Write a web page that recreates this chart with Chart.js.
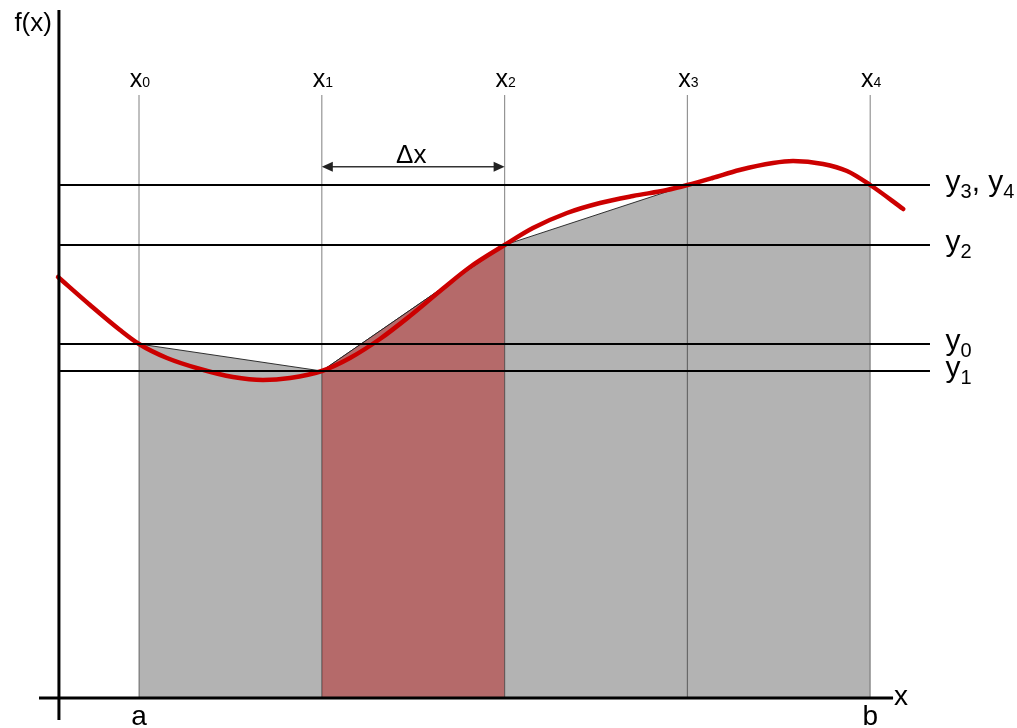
<!DOCTYPE html>
<html><head><meta charset="utf-8">
<script src="https://cdn.jsdelivr.net/npm/chart.js@4.4.1/dist/chart.umd.min.js"></script>
<style>html,body{margin:0;padding:0;background:#fff;}canvas{display:block;}</style>
</head><body>
<canvas id="c" width="1017" height="728"></canvas>
<script>
// ---- data ----
const curveX = [0.557,0.732,0.896,1.0,1.153,1.334,1.514,1.678,1.826,2.0,2.154,2.318,2.482,2.647,2.811,3.0,3.155,3.341,3.522,3.702,3.888,4.0,4.137,4.285,4.468,4.578,4.742,4.873,5.0,5.181];
const curveY = [4.21,3.93,3.68,3.54,3.40,3.29,3.21,3.18,3.20,3.27,3.40,3.59,3.82,4.07,4.31,4.53,4.70,4.85,4.95,5.02,5.08,5.13,5.20,5.28,5.35,5.37,5.34,5.27,5.13,4.89];
const nodeX = [1,2,3,4,5];
const nodeY = [3.54,3.27,4.53,5.13,5.13];
const nodeName = ['x','x','x','x','x'];
const nodeSub = ['0','1','2','3','4'];
const stripIndex = [1,2];            // highlighted trapezoid x1..x2
const levelY = [3.54,3.27,4.53,5.13];
const levelMain = [['y'],['y'],['y'],['y',', ','y']];
const levelSub  = [['0'],['1'],['2'],['3','','4']];
const endLabels = ['a','b'];
const axisLabels = ['f(x)','x'];
const deltaLabel = '\u0394x';

// ---- layout constants ----
const X_MIN = 0.2396, X_MAX = 5.803, Y_MIN = -0.30, Y_MAX = 6.98;
const AXIS_X = 0.562, AXIS_X_LEFT = 0.453, AXIS_X_RIGHT = 5.125, AXIS_Y_BOTTOM = -0.22, AXIS_Y_TOP = 6.88;
const VLINE_TOP = 6.03, HLINE_LEFT = 0.568, HLINE_RIGHT = 5.327, LEVEL_LABEL_X = 5.412, ARROW_Y = 5.313;
const FONT = '"Liberation Sans", Arial, sans-serif';

const pts = (xs, ys) => xs.map((x, i) => ({x, y: ys[i]}));
const ds = [];
// gray trapezoids
ds.push({data: pts(nodeX, nodeY), fill: 'origin', backgroundColor: 'rgb(179,179,179)', borderColor: 'rgba(30,30,30,0.9)', borderWidth: 1, tension: 0, order: 20});
// highlighted trapezoid
ds.push({data: stripIndex.map(i => ({x: nodeX[i], y: nodeY[i]})), fill: 'origin', backgroundColor: 'rgb(181,106,106)', borderColor: 'rgba(30,30,30,0.9)', borderWidth: 1, tension: 0, order: 19});
// vertical grid lines
nodeX.forEach(x => ds.push({data: [{x, y: 0}, {x, y: VLINE_TOP}], borderColor: 'rgba(0,0,0,0.42)', borderWidth: 1.2, fill: false, order: 15}));
// curve
ds.push({data: pts(curveX, curveY), borderColor: '#cc0000', borderWidth: 4.5, fill: false, cubicInterpolationMode: 'monotone', order: 10, borderCapStyle: 'round'});
// horizontal level lines
levelY.forEach(y => ds.push({data: [{x: HLINE_LEFT, y}, {x: HLINE_RIGHT, y}], borderColor: '#000', borderWidth: 2, fill: false, order: 8}));
// axes
ds.push({data: [{x: AXIS_X_LEFT, y: 0}, {x: AXIS_X_RIGHT, y: 0}], borderColor: '#000', borderWidth: 3, fill: false, order: 5});
ds.push({data: [{x: AXIS_X, y: AXIS_Y_BOTTOM}, {x: AXIS_X, y: AXIS_Y_TOP}], borderColor: '#000', borderWidth: 3, fill: false, order: 5});
// delta arrow shaft
ds.push({data: [{x: nodeX[1] + 0.04, y: ARROW_Y}, {x: nodeX[2] - 0.04, y: ARROW_Y}], borderColor: '#333', borderWidth: 1.5, fill: false, order: 4});

function drawSegs(ctx, x, base, segs) {
  segs.forEach(s => {
    ctx.font = s.size + 'px ' + FONT;
    ctx.fillText(s.t, x, base + (s.dy || 0));
    x += ctx.measureText(s.t).width;
  });
}
function segsWidth(ctx, segs) {
  let w = 0;
  segs.forEach(s => { ctx.font = s.size + 'px ' + FONT; w += ctx.measureText(s.t).width; });
  return w;
}

const labelPlugin = {
  id: 'labels',
  afterDatasetsDraw(chart) {
    const ctx = chart.ctx, xs = chart.scales.x, ys = chart.scales.y;
    ctx.save();
    ctx.textBaseline = 'alphabetic';
    ctx.textAlign = 'left';
    // arrow heads
    const ay = ys.getPixelForValue(ARROW_Y);
    ctx.fillStyle = '#222';
    [[nodeX[1], 1], [nodeX[2], -1]].forEach(([v, dir]) => {
      const px = xs.getPixelForValue(v);
      ctx.beginPath();
      ctx.moveTo(px, ay);
      ctx.lineTo(px + dir * 11, ay - 5);
      ctx.lineTo(px + dir * 11, ay + 5);
      ctx.closePath();
      ctx.fill();
    });
    ctx.fillStyle = '#000';
    // node labels x0..x4
    const topPx = ys.getPixelForValue(VLINE_TOP);
    nodeX.forEach((v, i) => {
      const segs = [{t: nodeName[i], size: 25}, {t: nodeSub[i], size: 14}];
      const w = segsWidth(ctx, segs);
      drawSegs(ctx, xs.getPixelForValue(v) + 1 - w / 2, topPx - 8, segs);
    });
    // delta x
    ctx.font = '26px ' + FONT;
    const dw = ctx.measureText(deltaLabel).width;
    drawSegs(ctx, (xs.getPixelForValue(nodeX[1]) + xs.getPixelForValue(nodeX[2])) / 2 - 2 - dw / 2, ay - 4, [{t: deltaLabel, size: 26}]);
    // level labels
    const lx = xs.getPixelForValue(LEVEL_LABEL_X);
    levelY.forEach((v, i) => {
      const py = ys.getPixelForValue(v);
      const segs = [];
      levelMain[i].forEach((m, j) => {
        segs.push({t: m, size: 30, dy: 0});
        if (levelSub[i][j]) segs.push({t: levelSub[i][j], size: 20, dy: 7});
      });
      drawSegs(ctx, lx, py + 6, segs);
    });
    // a, b
    const base0 = ys.getPixelForValue(0);
    ctx.font = '28px ' + FONT;
    [nodeX[0], nodeX[nodeX.length - 1]].forEach((v, i) => {
      const w = ctx.measureText(endLabels[i]).width;
      ctx.fillText(endLabels[i], xs.getPixelForValue(v) - w / 2, base0 + 27);
    });
    // axis labels
    ctx.fillText(axisLabels[1], xs.getPixelForValue(AXIS_X_RIGHT) + 1, base0 + 7);
    ctx.font = '26px ' + FONT;
    const fw = ctx.measureText(axisLabels[0]).width;
    ctx.fillText(axisLabels[0], xs.getPixelForValue(AXIS_X) - 7 - fw, ys.getPixelForValue(AXIS_Y_TOP) + 21);
    ctx.restore();
  }
};

new Chart(document.getElementById('c'), {
  type: 'line',
  data: {datasets: ds},
  options: {
    responsive: false, animation: false, devicePixelRatio: 1,
    layout: {padding: 0},
    elements: {point: {radius: 0, hoverRadius: 0}},
    plugins: {legend: {display: false}, tooltip: {enabled: false}},
    events: [],
    scales: {
      x: {type: 'linear', display: false, min: X_MIN, max: X_MAX},
      y: {type: 'linear', display: false, min: Y_MIN, max: Y_MAX}
    }
  },
  plugins: [labelPlugin]
});
</script>
</body></html>
